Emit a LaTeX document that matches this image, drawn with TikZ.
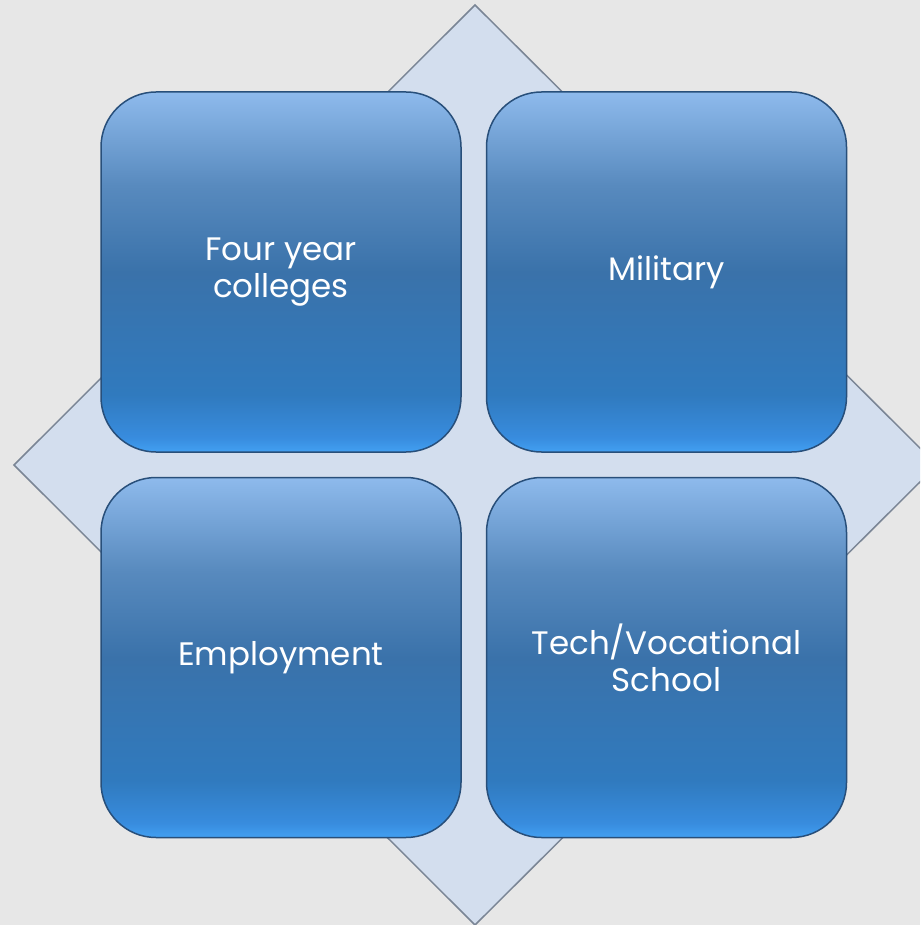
\documentclass[tikz,border=0pt]{standalone}
\usepackage{fontspec}
\setmainfont{Poppins}
\definecolor{bgc}{HTML}{E7E7E7}
\definecolor{diafill}{HTML}{D3DEEE}
\definecolor{diadraw}{HTML}{7A8595}
\definecolor{boxdraw}{HTML}{284F7A}
\definecolor{sA}{RGB}{66,160,242}
\definecolor{sB}{RGB}{56,140,222}
\definecolor{sC}{RGB}{48,122,190}
\definecolor{sD}{RGB}{58,114,170}
\definecolor{sE}{RGB}{88,138,190}
\definecolor{sF}{RGB}{142,186,236}
\pgfdeclareverticalshading{boxshade}{100bp}{color(0bp)=(sA); color(25bp)=(sA); color(27bp)=(sB); color(33bp)=(sC); color(50bp)=(sD); color(62bp)=(sE); color(75bp)=(sF); color(100bp)=(sF)}
\tikzset{
  tile/.style={draw=boxdraw, line width=1.5pt, rounded corners=55pt, shading=boxshade, minimum width=360pt, minimum height=360pt, shape=rectangle, inner sep=0pt, text=white, align=center, font=\fontsize{32.5}{37}\selectfont},
  diam/.style={fill=diafill, draw=diadraw, line width=1.5pt}
}
\begin{document}
\begin{tikzpicture}[x=1pt,y=-1pt]
\useasboundingbox (0,0) rectangle (920,925);
\fill[bgc] (0,0) rectangle (920,925);
\begin{scope}
\clip (0,0) rectangle (920,925);
\draw[diam] (475,5) coordinate (dt) -- (937,465) coordinate (dr) -- (475,925) coordinate (db) -- (14,465) coordinate (dl) -- cycle;
\end{scope}
\node[tile] (four) at (281,272) {Four year\\colleges};
\node[tile] (mil) at (666.5,272) {Military};
\node[tile] (emp) at (281,657.5) {Employment};
\node[tile] (tech) at (666.5,657.5) {Tech/Vocational\\School};
\end{tikzpicture}
\end{document}
